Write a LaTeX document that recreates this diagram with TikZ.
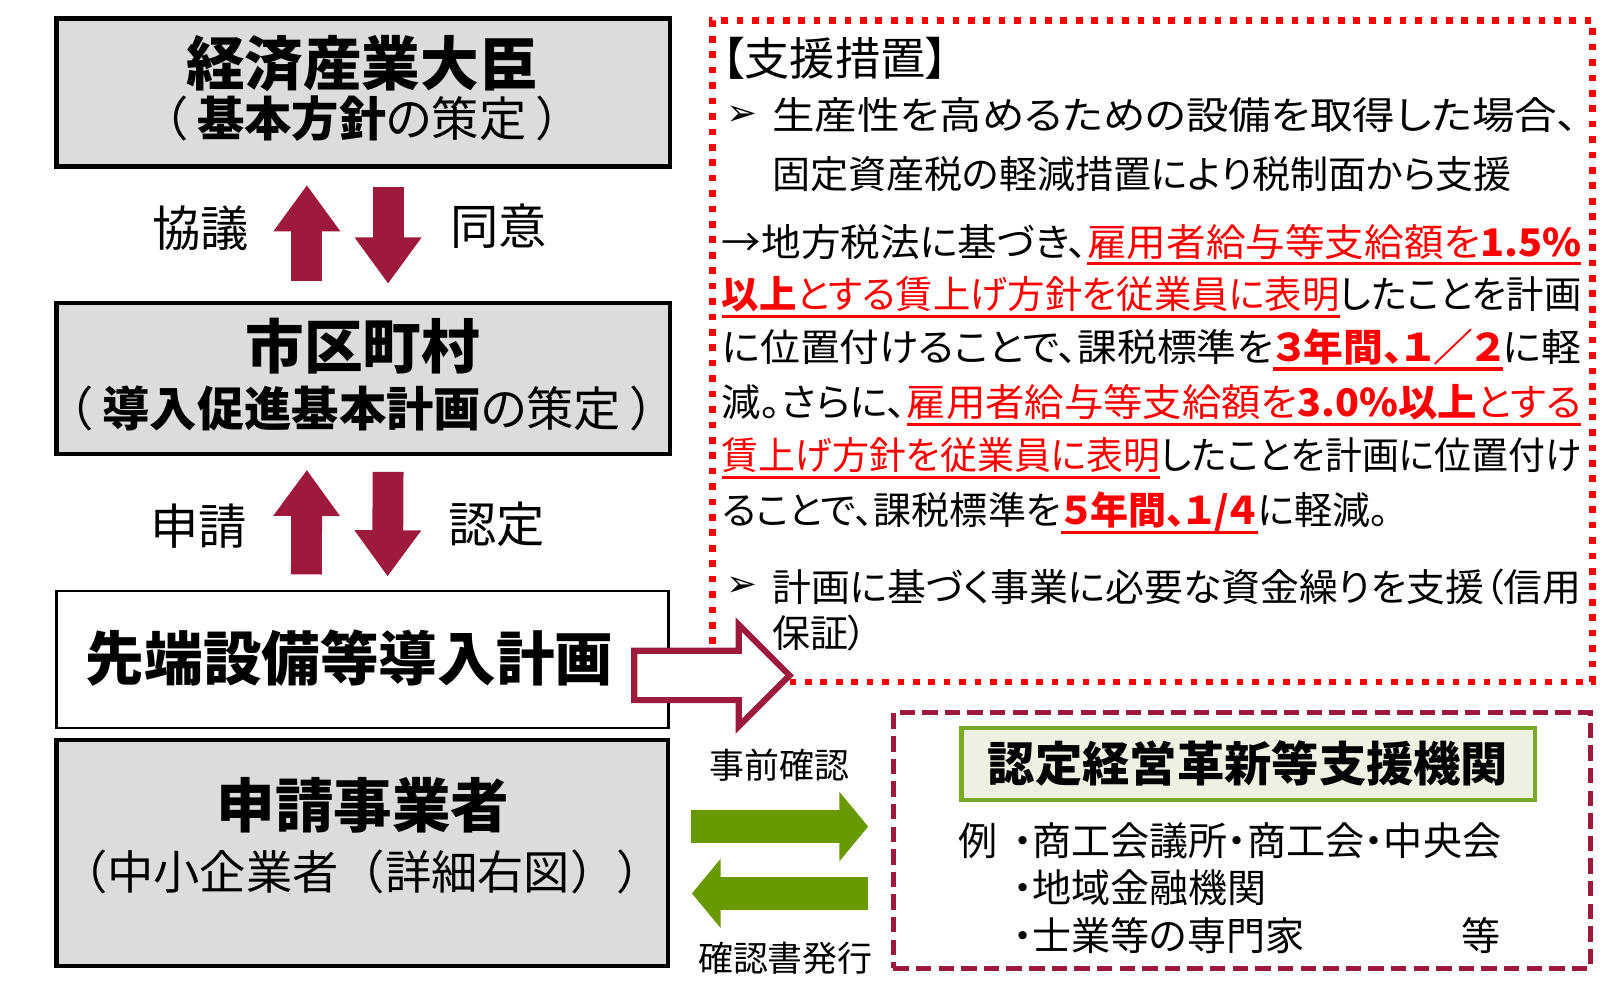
\documentclass[tikz,border=0pt]{standalone}
\usepackage{fontspec}
\usepackage{xcolor}
\usepackage{graphicx}
\usepackage{tikz}
\setmainfont{Noto Sans CJK JP}[RawFeature=+palt]
\newfontfamily\widefont{Noto Sans CJK JP}
\newfontfamily\symfont{DejaVu Sans}
\usetikzlibrary{calc}
\usetikzlibrary{positioning}
\usetikzlibrary{shapes.arrows}
\usetikzlibrary{arrows.meta}
\definecolor{boxgray}{RGB}{220,220,220}
\definecolor{crimson}{RGB}{158,26,60}
\definecolor{arrowgreen}{RGB}{104,153,0}
\definecolor{framegreen}{RGB}{120,170,40}
\definecolor{paleolive}{RGB}{238,240,226}
\newcommand\redul[1]{\sbox0{\textcolor{red}{#1}}\rlap{\textcolor{red}{\rule[-9pt]{\wd0}{3pt}}}\usebox0}
\newcommand\fitline[2]{\resizebox{#1}{\height}{#2}}
\tikzstyle{graybox} = [draw=black, fill=boxgray, line width=4pt, rectangle, inner sep=0pt]
\tikzstyle{planbox} = [draw=black, fill=white, line width=2.5pt, rectangle, inner sep=0pt]
\tikzstyle{boxtitle} = [font=\fontsize{57}{60}\selectfont\bfseries, inner sep=0pt]
\tikzstyle{boxsub} = [font=\fontsize{46}{50}\selectfont, inner sep=0pt]
\tikzstyle{flowlabel} = [font=\fontsize{47}{50}\selectfont, inner sep=0pt]
\tikzstyle{flowarrow} = [draw=crimson, line width=30pt, -{Triangle[width=62pt,length=45pt]}]
\tikzstyle{greenarrow} = [draw=arrowgreen, line width=32pt, -{Triangle[width=66pt,length=28pt]}]
\tikzstyle{hollowarrow} = [single arrow, draw=crimson, fill=white, line width=6pt,
single arrow head extend=25.5pt, single arrow tip angle=90, inner xsep=0pt, inner ysep=21pt]
\tikzstyle{aidbox} = [draw=red, line width=6pt, dash pattern=on 6.5pt off 8.5pt, rectangle]
\tikzstyle{supportbox} = [draw=crimson, line width=5pt, dash pattern=on 15pt off 7pt, rectangle]
\tikzstyle{agencybox} = [draw=framegreen, fill=paleolive, line width=4.5pt, rectangle,
font=\fontsize{46}{50}\selectfont\bfseries]
\tikzstyle{aidtext} = [font=\fontsize{37}{40}\selectfont, inner sep=0pt, anchor=west]
\tikzstyle{bulletmark} = [font=\fontsize{36}{40}\selectfont\symfont, inner sep=0pt, anchor=west]
\tikzstyle{listtext} = [font=\fontsize{38}{40}\selectfont, inner sep=0pt, anchor=west]
\tikzstyle{checklabel} = [font=\fontsize{34}{36}\selectfont, inner sep=0pt]

\begin{document}
\begin{tikzpicture}[x=1pt,y=1pt]
\useasboundingbox (0,0) rectangle (1568,970);

\node[graybox, minimum width=597pt, minimum height=144pt] (minister) at (353.5,880) {};
\node[boxtitle] (ministertitle) at (352,908) {経済産業大臣};
\node[boxsub] (ministersub) at (352,855) {（ {\bfseries 基本方針}の策定 ）};

\node[graybox, minimum width=597pt, minimum height=147pt] (city) at (353.5,601.5) {};
\node[boxtitle] (citytitle) at (353,633) {市区町村};
\node[boxsub] (citysub) at (352,573) {（ {\bfseries 導入促進基本計画}の策定 ）};

\node[planbox, minimum width=595pt, minimum height=133pt] (plan) at (352.5,328.5) {};
\node[boxtitle] (plantitle) at (340,330) {先端設備等導入計画};

\node[graybox, minimum width=595pt, minimum height=220pt] (applicant) at (352.5,140) {};
\node[boxtitle] (applicanttitle) at (353,187) {申請事業者};
\node[boxsub, font=\fontsize{45}{50}\selectfont\widefont] (applicantsub) at (352,122) {（中小企業者（詳細右図））};

\draw[flowarrow] ($(city.north)+(-55,20)$) -- ($(minister.south)+(-55,-16)$);
\draw[flowarrow] ($(minister.south)+(24,-18)$) -- ($(city.north)+(24,17)$);
\node[flowlabel] (consult) at (195,748) {協議};
\node[flowlabel] (agree) at (485,750) {同意};

\draw[flowarrow] ($(plan.north)+(-54.5,15)$) -- ($(city.south)+(-55,-13)$);
\draw[flowarrow] ($(city.south)+(24,-15)$) -- ($(plan.north)+(24.5,13)$);
\node[flowlabel] (apply) at (193,458) {申請};
\node[flowlabel] (approve) at (483,460) {認定};

\node[aidbox, minimum width=856pt, minimum height=643pt] (aid) at (1121,628.5) {};
\node[aidtext, font=\fontsize{44}{46}\selectfont] (aidhead) at (702,913) {【支援措置】};
\node[bulletmark] (bullet1) at (706,858) {➢};
\node[aidtext] (aid1) at (751,858) {\fitline{784pt}{生産性を高めるための設備を取得した場合、}};
\node[aidtext] (aid2) at (751,801) {固定資産税の軽減措置により税制面から支援};
\node[aidtext] (tax1) at (702,732) {\fitline{836pt}{→地方税法に基づき、\redul{雇用者給与等支給額を\textbf{1.5\%}}}};
\node[aidtext] (tax2) at (702,681) {\fitline{836pt}{\redul{\textbf{以上}とする賃上げ方針を従業員に表明}したことを計画}};
\node[aidtext] (tax3) at (702,630) {\fitline{836pt}{に位置付けることで、課税標準を\redul{\textbf{３年間、１／２}}に軽}};
\node[aidtext] (tax4) at (702,576) {\fitline{836pt}{減。さらに、\redul{雇用者給与等支給額を\textbf{3.0\%以上}とする}}};
\node[aidtext] (tax5) at (702,524) {\fitline{836pt}{\redul{賃上げ方針を従業員に表明}したことを計画に位置付け}};
\node[aidtext] (tax6) at (702,471) {ることで、課税標準を\redul{\textbf{５年間、１/４}}に軽減。};
\node[bulletmark] (bullet2) at (706,399) {➢};
\node[aidtext] (credit1) at (751,399) {\fitline{787pt}{計画に基づく事業に必要な資金繰りを支援（信用}};
\node[aidtext] (credit2) at (751,354) {保証）};

\node[hollowarrow, anchor=tail, minimum height=151pt, minimum width=93pt] (toaid) at (614,313) {};

\node[supportbox, minimum width=678pt, minimum height=249pt] (support) at (1208,152.5) {};
\node[agencybox, minimum width=558pt, minimum height=70pt] (agency) at (1214,227) {認定経営革新等支援機関};
\node[listtext] (example) at (932,152) {例};
\node[listtext] (item1) at (985,152) {・商工会議所・商工会・中央会};
\node[listtext] (item2) at (985,107) {・地域金融機関};
\node[listtext] (item3) at (985,60) {・士業等の専門家};
\node[listtext, anchor=center] (etc) at (1441,60) {等};

\draw[greenarrow] ($(applicant.east)+(20,26)$) -- ($(support.west)+(-22,13.5)$);
\draw[greenarrow] ($(support.west)+(-22,-51.5)$) -- ($(applicant.east)+(21,-39)$);
\node[checklabel] (precheck) at (758,226) {事前確認};
\node[checklabel] (issue) at (764,38) {確認書発行};
\end{tikzpicture}
\end{document}
